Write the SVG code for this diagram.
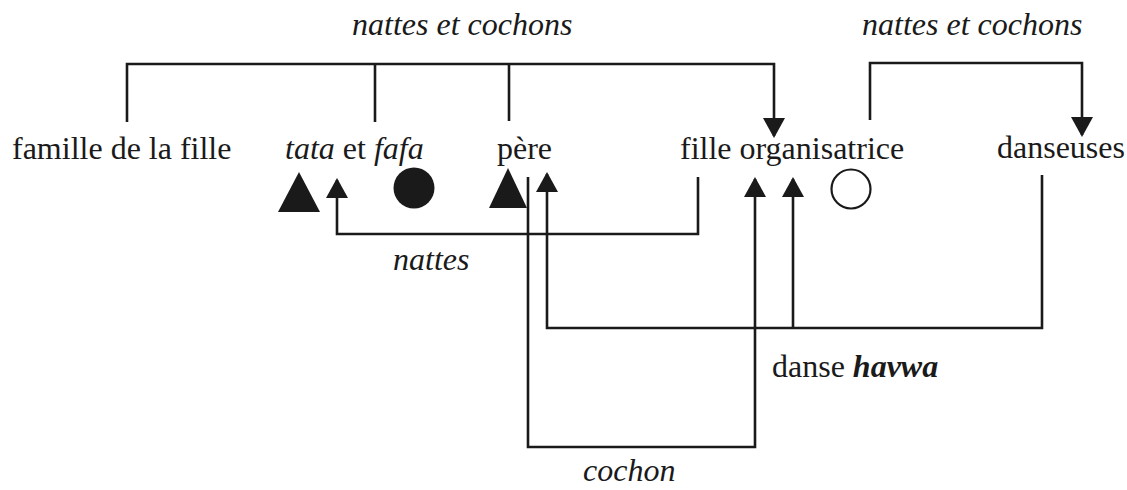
<svg xmlns="http://www.w3.org/2000/svg" width="1127" height="490" viewBox="0 0 1127 490">
<style>
text{font-family:"Liberation Serif","Times New Roman",serif;font-size:32px;fill:#1a1a1a}
.it{font-style:italic}
.bi{font-style:italic;font-weight:bold}
.ln{fill:none;stroke:#1a1a1a;stroke-width:2.6}
.sym{fill:#1a1a1a}
</style>
<defs>
<marker id="ah" viewBox="0 0 20 22" refX="18" refY="11" markerWidth="20" markerHeight="22" markerUnits="userSpaceOnUse" orient="auto">
<path d="M0,0 L20,11 L0,22 z" fill="#1a1a1a"/>
</marker>
</defs>
<rect width="1127" height="490" fill="#fff"/>
<g id="connectors">
<path class="ln" d="M127,122 V64 H774 V136" marker-end="url(#ah)"/>
<path class="ln" d="M375,122 V64"/>
<path class="ln" d="M509,121 V64"/>
<path class="ln" d="M870,120 V63 H1082 V135" marker-end="url(#ah)"/>
<path class="ln" d="M698,177 V234 H337 V180" marker-end="url(#ah)"/>
<path class="ln" d="M528,177 V447 H755 V179" marker-end="url(#ah)"/>
<path class="ln" d="M1042,175 V328 H547 V174" marker-end="url(#ah)"/>
<path class="ln" d="M793,328 V179" marker-end="url(#ah)"/>
</g>
<g id="labels">
<text class="it" x="352" y="35">nattes et cochons</text>
<text class="it" x="862" y="35">nattes et cochons</text>
<text class="it" x="393" y="270">nattes</text>
<text x="772" y="377">danse <tspan class="bi">havwa</tspan></text>
<text class="it" x="583" y="481">cochon</text>
</g>
<g id="node-famille">
<text x="12" y="159">famille de la fille</text>
</g>
<g id="node-tata-fafa">
<text x="285" y="159"><tspan class="it">tata</tspan> et <tspan class="it">fafa</tspan></text>
<polygon class="sym" points="299,172 278,212 320,212"/>
<circle class="sym" cx="414" cy="188" r="20.5"/>
</g>
<g id="node-pere">
<text x="497" y="159">père</text>
<polygon class="sym" points="508,168 489,208 527,208"/>
</g>
<g id="node-fille">
<text x="680" y="159">fille organisatrice</text>
<circle cx="851" cy="189" r="19.5" fill="none" stroke="#1a1a1a" stroke-width="2.2"/>
</g>
<g id="node-danseuses">
<text x="997" y="158">danseuses</text>
</g>
</svg>
